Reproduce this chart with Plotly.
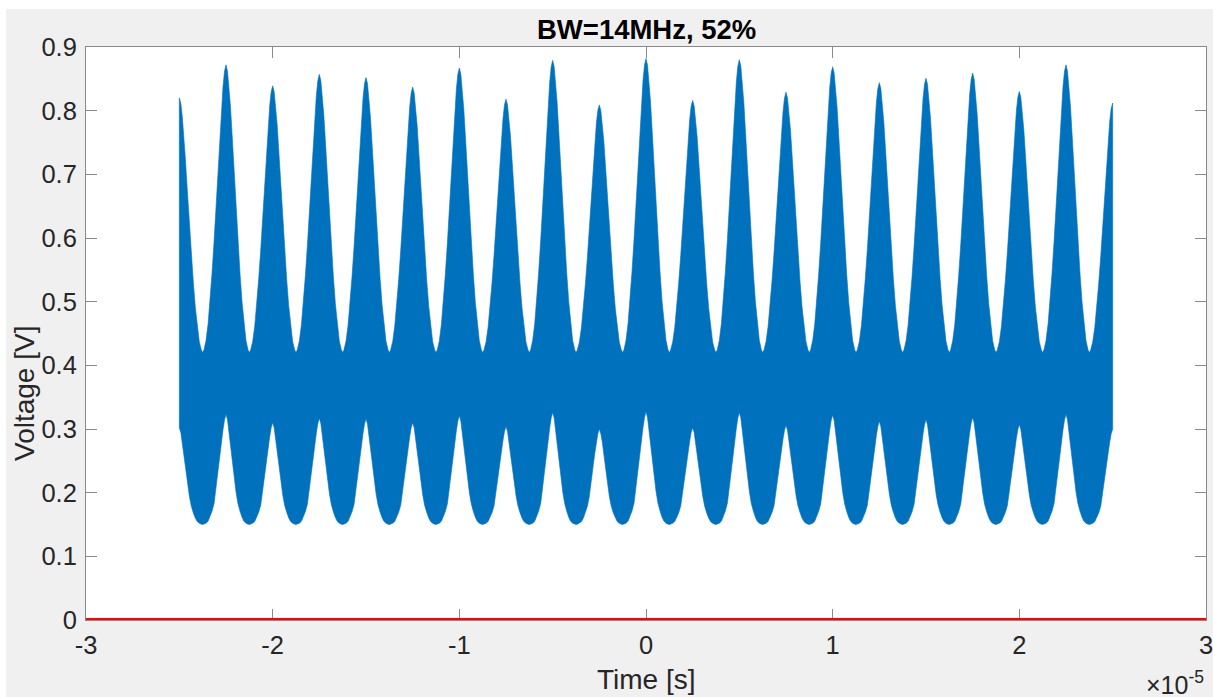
import plotly.graph_objects as go

# ---------------- data (time in units of 1e-5 s) ----------------
peak_times = [-2.5, -2.25, -2.0, -1.75, -1.5, -1.25, -1.0, -0.75, -0.5, -0.25, 0.0,
              0.25, 0.5, 0.75, 1.0, 1.25, 1.5, 1.75, 2.0, 2.25, 2.5]
upper_peaks = [0.820, 0.872, 0.839, 0.857, 0.852, 0.837, 0.867, 0.818, 0.879, 0.809, 0.882,
               0.816, 0.880, 0.829, 0.869, 0.844, 0.851, 0.859, 0.830, 0.872, 0.812]
lower_peaks = [0.302, 0.323, 0.310, 0.317, 0.316, 0.310, 0.321, 0.304, 0.326, 0.300, 0.327,
               0.302, 0.326, 0.306, 0.322, 0.312, 0.315, 0.318, 0.307, 0.323, 0.300]
upper_trough = 0.420
lower_trough = 0.150

# envelope shape read around one peak: offset from peak (1e-5 s) and fraction of peak height
shape_offsets = [0.0, 0.008, 0.016, 0.024, 0.032, 0.043, 0.054, 0.064, 0.075, 0.086, 0.096, 0.107, 0.118, 0.125]
upper_shape = [1.0, 0.978, 0.925, 0.855, 0.765, 0.635, 0.505, 0.385, 0.275, 0.175, 0.10, 0.042, 0.01, 0.0]
lower_shape = [1.0, 0.95, 0.86, 0.75, 0.63, 0.45, 0.29, 0.19, 0.12, 0.065, 0.03, 0.012, 0.003, 0.0]

zero_line_x = [-3, 3]
zero_line_y = [0, 0]

x_ticks = [-3, -2, -1, 0, 1, 2, 3]
x_ticktext = ["-3", "-2", "-1", "0", "1", "2", "3"]
y_ticks = [0, 0.1, 0.2, 0.3, 0.4, 0.5, 0.6, 0.7, 0.8, 0.9]
y_ticktext = ["0", "0.1", "0.2", "0.3", "0.4", "0.5", "0.6", "0.7", "0.8", "0.9"]


def envelope(peaks, trough, shape):
    xs, ys = [], []
    n = len(peak_times)
    for k, (t, p) in enumerate(zip(peak_times, peaks)):
        if k > 0:
            for off, f in reversed(list(zip(shape_offsets[1:-1], shape[1:-1]))):
                xs.append(t - off)
                ys.append(trough + (p - trough) * f)
        xs.append(t)
        ys.append(p)
        if k < n - 1:
            for off, f in zip(shape_offsets[1:], shape[1:]):
                xs.append(t + off)
                ys.append(trough + (p - trough) * f)
    return xs, ys


ux, uy = envelope(upper_peaks, upper_trough, upper_shape)
lx, ly = envelope(lower_peaks, lower_trough, lower_shape)
poly_x = ux + lx[::-1] + [ux[0]]
poly_y = uy + ly[::-1] + [uy[0]]

BLUE = "#0072BD"
FONT = "Liberation Sans, Arial, Helvetica, sans-serif"
AXC = "#8a8a8a"
TXT = "#262626"

fig = go.Figure()
fig.add_trace(go.Scatter(x=poly_x, y=poly_y, mode="lines", fill="toself",
                         fillcolor=BLUE, line=dict(color=BLUE, width=0.6),
                         hoverinfo="skip", showlegend=False))
fig.add_trace(go.Scatter(x=zero_line_x, y=zero_line_y, mode="lines",
                         line=dict(color="#ff0000", width=4), showlegend=False))

W, H = 1213, 697
L, R, T, B = 86, 1206, 47, 620
pw, ph = R - L, B - T


def px(p):
    return (p - L) / pw


def py(p):
    return (B - p) / ph


axis_common = dict(showline=True, linecolor=AXC, linewidth=1, mirror="ticks",
                   ticks="inside", ticklen=11, tickcolor=AXC, tickwidth=1,
                   showgrid=False, zeroline=False, automargin=False,
                   layer="below traces", ticklabeloverflow="allow",
                   tickfont=dict(size=25.5, color=TXT, family=FONT))

fig.update_layout(
    width=W, height=H,
    autosize=False,
    margin=dict(l=L, r=W - R, t=T, b=H - B, pad=0, autoexpand=False),
    paper_bgcolor="#f0f0f0",
    plot_bgcolor="white",
    font=dict(family=FONT, size=24, color=TXT),
    xaxis=dict(range=[-3, 3], tickvals=x_ticks, ticktext=x_ticktext,
               ticklabelstandoff=2, **axis_common),
    yaxis=dict(range=[0, 0.9], tickvals=y_ticks, ticktext=y_ticktext,
               ticklabelstandoff=3, **axis_common),
    shapes=[
        dict(type="rect", xref="paper", yref="paper", x0=px(0), x1=px(W), y0=py(0), y1=py(9),
             fillcolor="white", line=dict(width=0), layer="below"),
        dict(type="rect", xref="paper", yref="paper", x0=px(0), x1=px(6), y0=py(H), y1=py(0),
             fillcolor="white", line=dict(width=0), layer="below"),
    ],
    annotations=[
        dict(text="<b>BW=14MHz, 52%</b>", xref="paper", yref="paper", x=0.5, y=py(29),
             xanchor="center", yanchor="middle", showarrow=False,
             font=dict(size=27.5, color="#000000", family=FONT)),
        dict(text="Time [s]", xref="paper", yref="paper", x=0.5, y=py(679),
             xanchor="center", yanchor="middle", showarrow=False,
             font=dict(size=28, color=TXT, family=FONT)),
        dict(text="Voltage [V]", xref="paper", yref="paper", x=px(24), y=py(394),
             xanchor="center", yanchor="middle", textangle=-90, showarrow=False,
             font=dict(size=28, color=TXT, family=FONT)),
        dict(text="×10<sup>-5</sup>", xref="paper", yref="paper", x=1.0, y=py(683),
             xanchor="right", yanchor="middle", showarrow=False,
             font=dict(size=25, color=TXT, family=FONT)),
    ],
)

fig.write_html("out.html")
